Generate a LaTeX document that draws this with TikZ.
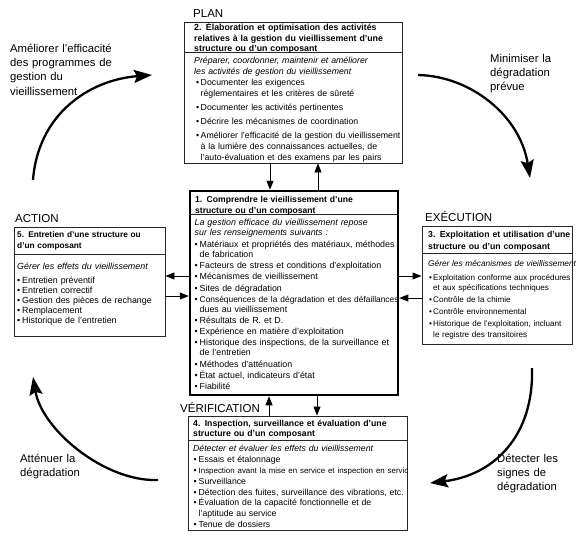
\documentclass[tikz,border=0pt]{standalone}
\usepackage{fontspec}
\setmainfont{Liberation Sans}
\usetikzlibrary{arrows.meta}
\newlength\itgap
\newlength\bulw
\newlength\bulsh
\setlength\bulw{5pt}
\setlength\bulsh{0.5pt}
\newcommand\nl{\hfil\break}
\newcommand\itm[1][\itgap]{\par\vspace{#1}\hangindent=\bulw\hangafter=1\noindent\makebox[\bulw][l]{\hspace{\bulsh}\textbullet}\ignorespaces}
\begin{document}
\begin{tikzpicture}[x=1pt,y=-1pt,
  box/.style={draw=black!85, line width=0.9pt, inner sep=0pt, rectangle},
  sep/.style={draw=black!85, line width=0.8pt},
  txt/.style={anchor=north west, inner sep=0pt, text width=260pt},
  phase/.style={anchor=base west, inner sep=0pt, font=\fontsize{11.5}{14}\selectfont},
  arclab/.style={anchor=north west, inner sep=0pt, text width=140pt, font=\fontsize{11.3}{14.4}\selectfont},
  conn/.style={line width=0.9pt, -{Triangle[length=9pt,width=7pt]}},
  bigarr/.style={line width=2.3pt, -{Stealth[length=18pt,width=13pt,inset=3pt]}}]
\useasboundingbox (0,0) rectangle (585,550);

% boxes
\node[box, minimum width=218pt, minimum height=141pt] (b2) at (293,92.5) {};
\node[box, draw=black, line width=2.5pt, minimum width=208pt, minimum height=204pt] (b1) at (294,293) {};
\node[box, minimum width=219pt, minimum height=114pt] (b4) at (297.5,473) {};
\node[box, minimum width=151pt, minimum height=109pt] (b5) at (89.5,281.5) {};
\node[box, minimum width=150pt, minimum height=118pt] (b3) at (497,285) {};

\draw[sep] (b2.west |- 0,52) -- (b2.east |- 0,52);
\draw[sep] (b1.west |- 0,214) -- (b1.east |- 0,214);
\draw[sep] (b4.west |- 0,440) -- (b4.east |- 0,440);
\draw[sep] (b5.west |- 0,254) -- (b5.east |- 0,254);
\draw[sep] (b3.west |- 0,253) -- (b3.east |- 0,253);

% phase labels
\node[phase] (lplan) at (193,17) {PLAN};
\node[phase] (lact) at (15,222) {ACTION};
\node[phase] (lexe) at (425,221) {EXÉCUTION};
\node[phase] (lver) at (180,412) {VÉRIFICATION};

% box 2
\node[txt, font=\fontsize{8.8}{10.5}\selectfont\bfseries] (h2) at (194,22.85)
 {\noindent\strut 2. Élaboration et optimisation des activités\nl relatives à la gestion du vieillissement d’une\nl structure ou d’un composant};
\node[txt, font=\fontsize{8.75}{11}\selectfont] (t2) at (194,55.5)
 {\setlength\itgap{3pt}\setlength\bulw{6.5pt}\setlength\bulsh{2pt}\noindent\strut\textit{Préparer, coordonner, maintenir et améliorer\nl les activités de gestion du vieillissement}
 \itm[0pt] Documenter les exigences\nl réglementaires et les critères de sûreté
 \itm Documenter les activités pertinentes
 \itm Décrire les mécanismes de coordination
 \itm Améliorer l’efficacité de la gestion du vieillissement\nl à la lumière des connaissances actuelles, de\nl l’auto-évaluation et des examens par les pairs\par};

% box 1
\node[txt, font=\fontsize{8.6}{11}\selectfont\bfseries] (h1) at (195,194.5)
 {\noindent\strut 1. Comprendre le vieillissement d’une\nl structure ou d’un composant};
\node[txt, font=\fontsize{8.85}{10}\selectfont] (t1) at (194.5,218.2)
 {\setlength\itgap{1.2pt}\setlength\bulw{5pt}\setlength\bulsh{0pt}\noindent\strut\textit{La gestion efficace du vieillissement repose\nl sur les renseignements suivants :}
 \itm[2pt] Matériaux et propriétés des matériaux, méthodes\nl de fabrication
 \itm Facteurs de stress et conditions d’exploitation
 \itm Mécanismes de vieillissement
 \itm Sites de dégradation
 \itm {\fontsize{8.4}{10}\selectfont Conséquences de la dégradation et des défaillances}\nl dues au vieillissement
 \itm Résultats de R. et D.
 \itm Expérience en matière d’exploitation
 \itm Historique des inspections, de la surveillance et\nl de l’entretien
 \itm Méthodes d’atténuation
 \itm État actuel, indicateurs d’état
 \itm Fiabilité\par};

% box 4
\node[txt, font=\fontsize{8.7}{10.5}\selectfont\bfseries] (h4) at (193,418.85)
 {\noindent\strut 4. Inspection, surveillance et évaluation d’une\nl structure ou d’un composant};
\begin{scope}
\clip (b4.south west) rectangle (b4.north east);
\node[txt, font=\fontsize{8.7}{10.4}\selectfont] (t4) at (193,443.9)
 {\setlength\itgap{0.5pt}\setlength\bulw{5.5pt}\setlength\bulsh{0.5pt}\noindent\strut\textit{Détecter et évaluer les effets du vieillissement}
 \itm[0.6pt] Essais et étalonnage
 \itm {\fontsize{7.9}{10.4}\selectfont Inspection avant la mise en service et inspection en service}
 \itm Surveillance
 \itm Détection des fuites, surveillance des vibrations, etc.
 \itm Évaluation de la capacité fonctionnelle et de\nl l’aptitude au service
 \itm Tenue de dossiers\par};
\end{scope}

% box 5
\node[txt, font=\fontsize{8.3}{11}\selectfont\bfseries] (h5) at (17,229.5)
 {\noindent\strut 5. Entretien d’une structure ou\nl d’un composant};
\node[txt, font=\fontsize{8.9}{10}\selectfont] (t5) at (17,262.2)
 {\setlength\itgap{0pt}\setlength\bulw{5pt}\setlength\bulsh{0pt}\noindent\strut\textit{Gérer les effets du vieillissement}
 \itm[4pt] Entretien préventif
 \itm Entretien correctif
 \itm Gestion des pièces de rechange
 \itm Remplacement
 \itm Historique de l’entretien\par};

% box 3
\node[txt, font=\fontsize{8.7}{12.5}\selectfont\bfseries] (h3) at (428,228.45)
 {\noindent\strut 3. Exploitation et utilisation d’une\nl structure ou d’un composant};
\node[txt, font=\fontsize{8.1}{10.5}\selectfont] (t3) at (428,258.85)
 {\setlength\itgap{1.5pt}\setlength\bulw{5pt}\setlength\bulsh{1pt}\noindent\strut{\fontsize{8.3}{10.5}\selectfont\itshape Gérer les mécanismes de vieillissement}
 \itm[3.5pt] Exploitation conforme aux procédures\nl et aux spécifications techniques
 \itm Contrôle de la chimie
 \itm Contrôle environnemental
 \itm Historique de l’exploitation, incluant\nl le registre des transitoires\par};

% connectors
\draw[conn] (b2.south -| 270,0) -- (b1.north -| 270,0);
\draw[conn] (b1.north -| 318,0) -- (b2.south -| 318,0);
\draw[conn] (b1.south -| 317,0) -- (b4.north -| 317,0);
\draw[conn] (b4.north -| 269,0) -- (b1.south -| 269,0);
\draw[conn] (b1.west |- 0,276) -- (b5.east |- 0,276);
\draw[conn] (b5.east |- 0,296) -- (b1.west |- 0,296);
\draw[conn] (b1.east |- 0,276) -- (b3.west |- 0,276);
\draw[conn] (b3.west |- 0,298) -- (b1.east |- 0,298);

% big cycle arrows
\coordinate (a1s) at (33,180);  \coordinate (a1e) at (152,75);
\coordinate (a2s) at (418,75);  \coordinate (a2e) at (530,178);
\coordinate (a3s) at (532,368); \coordinate (a3e) at (430,483);
\coordinate (a4s) at (158,480); \coordinate (a4e) at (33,377);
\draw[bigarr] (a1s) .. controls (38,115) and (88,80) .. (a1e);
\draw[bigarr] (a2s) .. controls (470,76) and (520,115) .. (a2e);
\draw[bigarr] (a3s) .. controls (534,435) and (495,475) .. (a3e);
\draw[bigarr] (a4s) .. controls (105,482) and (42,430) .. (a4e);

\node[arclab] (l1) at (10,41.9) {\noindent\strut Améliorer l’efficacité\nl des programmes de\nl gestion du\nl vieillissement};
\node[arclab] (l2) at (490,51.9) {\noindent\strut Minimiser la\nl dégradation\nl prévue};
\node[arclab] (l3) at (497,451.9) {\noindent\strut Détecter les\nl signes de\nl dégradation};
\node[arclab] (l4) at (20,451.9) {\noindent\strut Atténuer la\nl dégradation};
\end{tikzpicture}
\end{document}
